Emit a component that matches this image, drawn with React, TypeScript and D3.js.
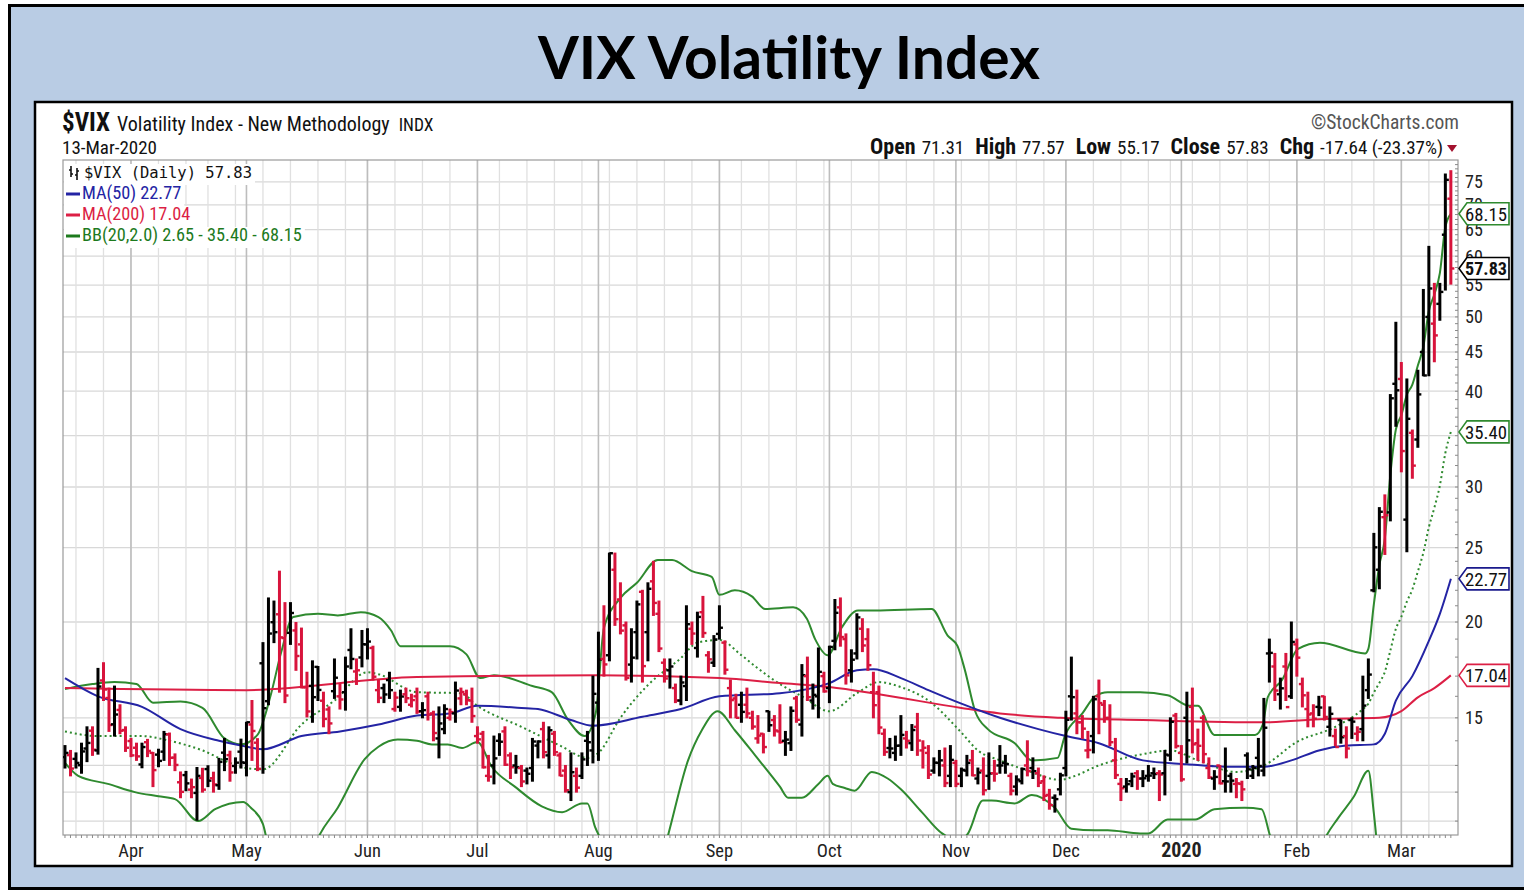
import { useEffect, useRef } from 'react'
import * as d3 from 'd3'

// trading calendar of the chart
const START = '2019-03-14'
const END = '2020-03-13'
const HOLIDAYS = ['2019-04-19', '2019-05-27', '2019-07-04', '2019-09-02', '2019-11-28', '2019-12-25', '2020-01-01', '2020-01-20', '2020-02-17']
const PREV_CLOSE = 13.41

// daily bars: [open, high, low, close]
const OHLC: [number, number, number, number][] = [
  // Mar 2019
  [13.33, 13.8, 12.9, 13.5], [13.41, 13.6, 12.6, 12.88], [13.26, 13.5, 12.9, 13.1], [13.01, 13.9, 12.7, 13.56],
  [13.68, 14.6, 13.15, 13.91], [14.43, 14.6, 13.4, 13.63], [13.6, 17.4, 13.45, 16.48], [16.78, 17.7, 15.8, 16.33],
  [15.92, 16.4, 14.4, 14.68], [14.71, 16.5, 14.2, 15.15], [15.36, 15.6, 14.3, 14.43], [14.46, 14.6, 13.56, 13.71],
  // Apr
  [13.99, 14.1, 13.35, 13.4], [13.71, 13.9, 13.2, 13.36], [13.04, 13.9, 12.91, 13.74], [13.94, 14.06, 13.35, 13.58],
  [13.5, 13.52, 12.2, 12.82], [13.43, 13.65, 12.95, 13.18], [13.55, 14.4, 13.2, 14.28], [14.27, 14.33, 13.0, 13.3],
  [13.31, 13.46, 12.8, 13.02], [12.36, 12.75, 11.8, 12.01], [12.63, 12.77, 12.05, 12.32], [12.09, 12.48, 11.8, 12.18],
  [11.97, 12.92, 11.03, 12.6], [12.52, 12.89, 12.0, 12.09], [12.86, 12.99, 12.2, 12.42], [12.51, 12.74, 12.0, 12.28],
  [12.25, 13.28, 12.1, 13.14], [13.51, 14.1, 12.8, 13.25], [13.41, 13.57, 12.4, 12.73], [12.98, 13.3, 12.7, 13.11],
  [13.55, 14.07, 12.9, 13.12],
  // May
  [13.1, 14.8, 12.6, 14.8], [14.7, 15.8, 13.2, 14.42], [13.92, 14.09, 12.8, 12.87], [17.67, 18.8, 12.7, 15.44],
  [15.77, 21.5, 15.6, 19.32], [19.99, 21.3, 18.8, 19.4], [20.47, 23.3, 16.2, 19.1], [19.06, 21.2, 15.7, 16.04],
  [19.36, 21.2, 18.7, 20.55], [19.5, 19.97, 17.3, 18.06], [18.7, 19.64, 16.41, 16.44], [16.44, 17.2, 15.04, 15.29],
  [16.51, 17.8, 14.8, 15.96], [17.48, 17.5, 15.8, 16.31], [15.79, 16.2, 14.6, 14.95], [15.38, 15.5, 14.3, 14.75],
  [16.25, 17.9, 15.9, 16.92], [16.0, 16.6, 15.4, 15.85], [16.2, 18.0, 15.35, 17.5], [18.39, 19.6, 17.38, 17.9],
  [17.24, 17.9, 16.58, 17.3], [17.98, 19.5, 17.48, 18.71],
  // Jun
  [18.7, 19.6, 17.9, 18.86], [18.5, 18.6, 16.8, 16.97], [16.3, 16.8, 15.7, 15.93], [16.4, 16.6, 15.7, 16.09],
  [16.8, 17.2, 15.9, 16.3], [15.4, 16.2, 15.3, 15.94], [15.5, 16.3, 15.3, 15.99], [16.1, 16.4, 15.7, 15.91],
  [15.6, 16.1, 15.5, 15.82], [16.0, 16.4, 15.2, 15.28], [15.3, 15.7, 15.0, 15.35], [16.0, 16.2, 14.9, 15.15],
  [15.2, 15.3, 14.0, 14.33], [14.1, 15.5, 13.3, 14.75], [14.5, 15.6, 14.3, 15.4], [15.0, 15.4, 14.9, 15.26],
  [15.2, 16.7, 14.8, 16.28], [15.9, 16.4, 15.6, 16.21], [16.1, 16.3, 15.6, 15.82], [15.8, 16.4, 14.8, 15.08],
  // Jul
  [14.2, 14.6, 13.9, 14.06], [14.3, 14.4, 12.9, 12.93], [12.6, 13.4, 12.4, 12.57], [13.0, 14.2, 12.3, 13.28],
  [14.0, 14.3, 13.4, 13.96], [14.4, 14.6, 13.0, 13.03], [13.4, 13.5, 12.5, 12.93], [13.0, 13.4, 12.7, 12.93],
  [12.9, 13.0, 12.2, 12.39], [12.8, 12.9, 12.3, 12.68], [12.9, 14.1, 12.4, 13.97], [13.8, 14.0, 13.3, 13.97],
  [14.5, 14.8, 13.3, 13.53], [13.4, 14.6, 12.9, 14.45], [14.3, 14.4, 13.4, 13.53], [13.4, 13.5, 12.6, 12.61],
  [12.8, 13.0, 12.0, 12.07], [12.0, 13.5, 11.7, 12.74], [12.6, 12.9, 12.0, 12.16], [12.6, 13.5, 12.5, 13.24],
  [14.0, 14.4, 13.0, 13.94], [13.6, 17.0, 13.1, 16.12],
  // Aug
  [15.7, 19.4, 13.2, 17.87], [17.9, 21.0, 17.0, 17.61], [18.1, 24.6, 17.8, 24.59], [23.4, 24.6, 19.8, 20.17],
  [21.4, 22.5, 19.3, 19.49], [19.8, 20.0, 16.8, 16.91], [17.6, 19.6, 16.7, 17.97], [19.4, 21.3, 17.9, 21.09],
  [21.9, 22.0, 16.7, 17.52], [19.4, 22.5, 17.8, 22.1], [22.6, 24.0, 20.4, 21.18], [20.5, 21.3, 18.3, 18.47],
  [17.7, 17.9, 16.7, 16.88], [17.3, 17.9, 16.4, 17.5], [16.4, 16.6, 15.7, 15.8], [15.8, 17.0, 15.6, 16.68],
  [16.5, 21.0, 15.8, 19.87], [19.6, 20.0, 18.7, 19.32], [18.5, 20.6, 18.0, 20.31], [20.6, 21.6, 19.1, 19.35],
  [18.1, 18.3, 17.2, 17.88], [17.7, 19.2, 17.5, 18.98],
  // Sep
  [19.3, 21.0, 19.0, 19.66], [18.8, 18.9, 17.1, 17.33], [16.4, 16.8, 15.0, 15.82], [15.9, 16.1, 15.0, 15.0],
  [15.6, 16.2, 14.8, 15.27], [15.6, 16.4, 15.0, 15.2], [15.0, 15.3, 14.5, 14.61], [14.1, 15.1, 13.9, 14.22],
  [14.3, 14.3, 13.5, 13.74], [15.3, 15.3, 14.4, 14.67], [14.9, 15.1, 14.2, 14.44], [14.4, 15.6, 13.9, 13.95],
  [14.0, 14.4, 13.4, 14.05], [13.9, 15.5, 13.6, 15.32], [15.9, 16.0, 14.8, 14.91], [14.7, 17.6, 14.2, 17.05],
  [17.0, 18.0, 15.8, 15.96], [15.8, 16.6, 15.4, 16.07], [16.0, 18.5, 15.0, 17.22], [17.0, 17.2, 16.2, 16.24],
  // Oct
  [16.4, 18.6, 15.7, 18.56], [18.9, 21.4, 18.4, 20.56], [20.9, 21.5, 18.6, 19.12], [19.0, 19.3, 16.6, 17.04],
  [17.3, 18.4, 16.7, 17.86], [18.2, 20.5, 17.9, 20.28], [19.6, 20.2, 18.3, 18.64], [19.0, 19.6, 17.3, 17.57],
  [16.2, 17.2, 15.0, 15.58], [16.2, 16.5, 14.3, 14.57], [14.3, 14.5, 13.4, 13.54], [13.7, 14.1, 13.3, 13.68],
  [13.5, 14.2, 13.2, 13.79], [13.8, 15.1, 13.4, 14.25], [14.1, 14.4, 13.7, 14.0], [13.9, 14.7, 13.6, 14.46],
  [14.6, 15.2, 13.4, 14.01], [13.6, 14.0, 12.9, 13.71], [13.5, 13.8, 12.5, 12.65], [12.8, 13.3, 12.7, 13.11],
  [13.1, 13.6, 12.6, 13.2], [13.0, 13.7, 12.2, 12.33], [12.6, 13.8, 12.2, 13.22],
  // Nov
  [13.1, 13.2, 12.2, 12.3], [12.6, 12.9, 12.2, 12.83], [12.8, 13.4, 12.6, 13.1], [13.2, 13.6, 12.6, 12.62],
  [12.5, 12.9, 12.3, 12.73], [12.8, 13.3, 11.9, 12.07], [12.6, 13.5, 12.1, 12.69], [12.7, 13.2, 12.4, 12.68],
  [13.0, 13.8, 12.7, 13.0], [13.1, 13.4, 12.7, 13.05], [12.6, 12.7, 11.9, 12.05], [12.2, 12.6, 11.9, 12.46],
  [12.4, 12.9, 12.3, 12.86], [13.0, 14.0, 12.6, 12.78], [12.9, 13.3, 12.5, 12.78], [12.7, 12.9, 12.2, 12.34],
  [12.4, 12.6, 11.7, 11.87], [11.9, 12.1, 11.4, 11.54], [11.8, 11.9, 11.3, 11.75], [12.1, 12.7, 11.9, 12.62],
  // Dec
  [12.9, 15.3, 12.6, 14.91], [16.0, 18.0, 14.9, 15.96], [15.2, 16.3, 14.3, 14.8], [14.8, 15.1, 14.1, 14.52],
  [13.6, 14.4, 13.3, 13.62], [14.2, 16.0, 13.5, 15.86], [16.0, 16.8, 14.3, 15.68], [15.6, 15.8, 14.8, 14.99],
  [15.0, 15.6, 13.8, 13.94], [13.2, 14.1, 12.5, 12.63], [12.3, 12.5, 11.7, 12.14], [12.2, 12.5, 12.0, 12.29],
  [12.4, 12.7, 12.2, 12.58], [12.7, 12.8, 12.1, 12.5], [12.5, 12.8, 12.2, 12.51], [12.6, 13.0, 12.4, 12.61],
  [12.7, 12.9, 12.5, 12.67], [12.7, 12.8, 11.7, 12.65], [12.7, 13.6, 11.9, 13.43], [13.4, 15.0, 13.2, 14.82],
  [15.1, 15.2, 13.7, 13.78],
  // Jan 2020
  [13.5, 13.8, 12.4, 12.47], [15.0, 16.2, 13.1, 14.02], [15.5, 16.4, 13.5, 13.85], [13.9, 14.5, 13.2, 13.79],
  [15.0, 15.1, 13.1, 13.45], [12.9, 13.3, 12.5, 12.54], [12.5, 12.8, 12.1, 12.56], [13.0, 13.0, 12.3, 12.32],
  [12.4, 13.7, 12.0, 12.39], [12.6, 12.7, 12.0, 12.42], [12.3, 12.5, 11.8, 12.32], [12.3, 12.4, 11.7, 12.1],
  [13.4, 13.5, 12.5, 12.85], [12.6, 13.0, 12.5, 12.91], [13.3, 14.1, 12.6, 12.98], [12.8, 15.9, 12.6, 14.56],
  [18.2, 19.0, 16.7, 18.23], [17.5, 18.2, 15.8, 16.28], [16.1, 16.9, 15.4, 16.39], [17.5, 18.2, 15.8, 15.49],
  [16.0, 20.0, 15.9, 18.84],
  // Feb
  [18.7, 19.0, 17.0, 17.97], [16.6, 16.9, 15.5, 16.05], [15.4, 16.2, 14.6, 15.15], [15.2, 15.6, 14.6, 14.96],
  [15.5, 16.0, 15.1, 15.47], [16.0, 16.0, 14.9, 15.04], [14.6, 15.5, 14.2, 15.18], [14.2, 14.5, 13.8, 13.74],
  [14.9, 14.9, 13.9, 14.15], [14.2, 14.6, 13.3, 13.68], [14.9, 15.0, 14.1, 14.83], [14.3, 14.6, 14.0, 14.38],
  [14.5, 17.0, 14.0, 15.56], [16.3, 17.9, 15.9, 17.08], [22.0, 26.1, 21.9, 25.03], [23.4, 28.2, 22.1, 27.85],
  [27.4, 29.3, 24.5, 27.56], [27.8, 39.6, 27.1, 39.16], [40.9, 49.2, 36.0, 40.11],
  // Mar 2020
  [41.5, 43.6, 31.4, 33.42], [27.2, 41.5, 24.7, 36.82], [35.3, 35.6, 30.8, 31.99], [34.6, 42.6, 33.8, 39.62],
  [45.0, 54.3, 41.9, 41.94], [50.0, 61.8, 41.9, 54.46], [49.0, 55.3, 43.7, 47.3], [52.0, 55.3, 49.5, 53.9],
  [64.0, 76.8, 54.2, 75.47], [71.31, 77.57, 55.17, 57.83],
]

// overlays: [trading day number, value]
const MA50: [number, number][] = [
  [0, 16.9], [6, 16.0], [14, 15.5], [21, 14.5], [28, 14.0], [32, 13.8], [36, 13.65], [43, 14.2], [50, 14.4],
  [57, 14.7], [64, 15.1], [70, 15.2], [75, 15.55], [83, 15.45], [86, 15.4], [92, 14.9], [96, 14.65], [105, 15.05],
  [112, 15.4], [119, 16.0], [130, 16.15], [139, 16.65], [144, 17.3], [147, 17.35], [152, 16.9], [157, 16.3],
  [163, 15.65], [170, 15.0], [177, 14.5], [182, 14.2], [188, 13.9], [196, 13.2], [204, 13.05], [211, 12.95],
  [218, 12.95], [223, 13.2], [228, 13.6], [233, 13.8], [238, 13.85], [240, 14.3], [242, 15.8], [245, 17.0],
  [248, 18.9], [250, 20.5], [252, 22.77],
]
const MA200: [number, number][] = [
  [0, 16.4], [33, 16.3], [64, 16.95], [97, 17.05], [119, 16.9], [130, 16.65], [139, 16.45], [148, 16.1],
  [163, 15.45], [170, 15.2], [181, 15.0], [196, 14.9], [218, 14.8], [229, 14.95], [239, 15.0], [243, 15.3],
  [246, 15.95], [249, 16.4], [252, 17.04],
]
const BB_MID: [number, number][] = [
  [0, 14.4], [6, 14.2], [14, 14.2], [19, 14.0], [25, 13.6], [30, 13.1], [33, 12.9], [36, 12.85], [43, 14.7],
  [49, 15.8], [55, 17.2], [57, 17.1], [64, 16.2], [72, 16.15], [75, 15.55], [83, 14.6], [90, 13.8], [95, 13.3],
  [97, 13.5], [101, 15.0], [106, 16.55], [112, 17.95], [115, 18.8], [119, 18.95], [123, 18.1], [126, 17.4],
  [130, 16.6], [134, 16.0], [139, 15.3], [144, 16.15], [148, 16.7], [152, 16.45], [157, 15.8], [163, 14.35],
  [166, 13.6], [170, 13.2], [175, 12.8], [181, 12.45], [183, 12.55], [188, 13.0], [196, 13.45], [201, 13.6],
  [206, 13.2], [213, 12.75], [218, 13.0], [224, 13.95], [231, 14.6], [236, 15.4], [237, 15.65], [238, 16.18],
  [239, 16.66], [240, 17.22], [241, 18.36], [242, 19.59], [243, 20.32], [244, 21.26], [245, 22.06], [246, 23.28],
  [247, 24.63], [248, 26.58], [249, 28.19], [250, 30.13], [251, 33.22], [252, 35.4],
]
const BB_UPPER: [number, number][] = [
  [0, 16.35], [5, 16.6], [9, 16.7], [13, 16.6], [16, 15.7], [21, 15.75], [25, 15.45], [29, 14.1], [32, 13.85],
  [35, 14.25], [37.5, 16.15], [39.3, 18.25], [41.5, 20.3], [46, 20.5], [49.6, 20.4], [53.8, 20.6], [57, 20.3],
  [59.3, 19.5], [61, 18.6], [70, 18.6], [73, 18.15], [75.5, 16.9], [78, 17.05], [85, 16.5], [88.5, 16.2],
  [91.5, 14.9], [94.5, 14.2], [96.5, 15.2], [98, 19.65], [101, 21.5], [104, 22.5], [107.8, 24.1], [110.4, 24.1],
  [114, 23.3], [117.6, 22.9], [119, 21.7], [121.8, 22.0], [124.9, 21.6], [127.3, 20.8], [132.4, 20.9],
  [134.9, 20.2], [136.4, 19.0], [138.7, 18.1], [141.3, 19.7], [144.2, 20.7], [147.3, 20.7], [157.6, 20.8],
  [160.5, 19.2], [162.3, 18.6], [163.6, 17.35], [165.5, 15.3], [167.8, 14.5], [172.7, 13.9], [175.8, 13.2],
  [180.5, 13.3], [181.8, 14.2], [185, 15.2], [187.3, 16.0], [189.6, 16.2], [195.5, 16.2], [200.5, 16.05],
  [204.5, 15.55], [206, 15.55], [209, 14.25], [216.4, 14.25], [217.8, 14.7], [218.7, 15.95], [221.3, 16.8],
  [224.2, 18.45], [228.2, 18.8], [236.4, 18.2], [237, 18.45], [238, 21.1], [239, 23.72], [240, 25.72],
  [241, 31.14], [242, 35.65], [243, 37.23], [244, 39.58], [245, 40.8], [246, 43.2], [247, 45.74], [248, 50.9],
  [249, 53.5], [250, 57.03], [251, 65.5], [252, 68.15],
]
const BB_LOWER: [number, number][] = [
  [0, 13.1], [2.4, 12.6], [7.8, 12.3], [12.7, 12.0], [17, 11.85], [20, 11.75], [24.2, 11.0], [27.3, 11.4],
  [32.4, 11.65], [33.8, 11.45], [36, 10.9], [37, 10.2], [40, 9.5], [44, 9.6], [46, 10.45], [49.6, 11.45],
  [54.5, 13.25], [57, 13.75], [60.5, 14.05], [64, 14.0], [66.7, 13.85], [69.6, 13.85], [72.2, 13.7], [75, 13.95],
  [77.6, 12.95], [81.8, 12.2], [86.7, 11.5], [90.4, 11.3], [94, 11.6], [95, 11.6], [96.4, 10.8], [98, 10.2],
  [100, 9.0], [104, 8.0], [107, 9.0], [109.6, 10.5], [113.3, 13.2], [115.8, 14.45], [118.7, 15.3], [121.8, 14.45],
  [125.5, 13.4], [130, 12.2], [131.5, 11.8], [134, 11.8], [137, 12.3], [138.7, 12.6], [139.6, 12.3],
  [141.8, 12.15], [143.6, 12.05], [146.7, 12.75], [149.6, 12.5], [152, 12.1], [155.8, 11.3], [159.5, 10.6],
  [162, 10.4], [164, 10.55], [166.9, 11.7], [168.5, 11.7], [172.7, 11.6], [175.8, 11.9], [180, 11.45],
  [183, 10.75], [187.3, 10.7], [189.6, 10.7], [195.5, 10.6], [197, 10.6], [200.5, 11.05], [205.5, 11.05],
  [209, 11.4], [214.5, 11.45], [217.6, 11.4], [219, 10.6], [220, 10.0], [223, 9.2], [226, 9.0], [229, 10.4],
  [231.5, 11.1], [234.4, 11.85], [237, 12.8], [238, 11.26], [239, 9.6], [240, 8.72], [241, 5.58], [242, 3.53],
]

const Y_LABELS = [15, 20, 25, 30, 35, 40, 45, 50, 55, 60, 65, 70, 75]
const Y_GRID = [11, 12, 13, 15, 20, 25, 30, 35, 40, 45, 50, 55, 60, 65, 70, 75]

const QUOTE = [
  { label: 'Open', value: '71.31' },
  { label: 'High', value: '77.57' },
  { label: 'Low', value: '55.17' },
  { label: 'Close', value: '57.83' },
  { label: 'Chg', value: '-17.64 (-23.37%)' },
]

const BLUE = '#2424a4'
const RED = '#dc1f45'
const GREEN = '#2f8a2f'
const BAR_RED = '#d8143c'

const LEGEND = [
  { text: 'MA(50) 22.77', color: BLUE },
  { text: 'MA(200) 17.04', color: RED },
  { text: 'BB(20,2.0) 2.65 - 35.40 - 68.15', color: '#1d7a1d' },
]

const VALUE_TAGS = [
  { value: 68.15, text: '68.15', color: GREEN, bold: false },
  { value: 57.83, text: '57.83', color: '#000', bold: true },
  { value: 35.4, text: '35.40', color: GREEN, bold: false },
  { value: 22.77, text: '22.77', color: '#1a1a8c', bold: false },
  { value: 17.04, text: '17.04', color: RED, bold: false },
]

const NARROW = "'Liberation Sans Narrow', 'Arial Narrow', 'Roboto Condensed', 'Liberation Sans', sans-serif"

export default function App() {
  const ref = useRef<SVGSVGElement>(null)

  useEffect(() => {
    if (!ref.current) return
    const svg = d3.select(ref.current)
    svg.selectAll('*').remove()

    const W = 1524
    const H = 892
    svg.attr('width', W).attr('height', H)

    // trading days
    const hol = new Set(HOLIDAYS)
    const fmt = d3.utcFormat('%Y-%m-%d')
    const days = d3.utcDay.range(new Date(START + 'T00:00:00Z'), d3.utcDay.offset(new Date(END + 'T00:00:00Z'), 1))
      .filter(d => d.getUTCDay() !== 0 && d.getUTCDay() !== 6 && !hol.has(fmt(d)))

    const plot = { left: 63, right: 1458, top: 160, bottom: 835 }
    const x = d3.scaleLinear().domain([-0.36, 253.3]).range([plot.left, plot.right])
    const y = d3.scaleLog().domain([10.55, 80.1]).range([plot.bottom, plot.top])

    // page frame
    svg.append('rect').attr('width', W).attr('height', H).attr('fill', '#fff')
    svg.append('rect').attr('x', 9.5).attr('y', 5.5).attr('width', 1540).attr('height', 883)
      .attr('fill', '#b9cce4').attr('stroke', '#000').attr('stroke-width', 3)

    svg.append('text')
      .attr('x', 789).attr('y', 79)
      .attr('text-anchor', 'middle')
      .attr('font-family', 'Lato, "Open Sans", sans-serif')
      .attr('font-weight', 700).attr('font-size', 60)
      .attr('textLength', 502).attr('lengthAdjust', 'spacingAndGlyphs')
      .attr('fill', '#000')
      .text('VIX Volatility Index')

    svg.append('rect').attr('x', 35).attr('y', 102).attr('width', 1477).attr('height', 764)
      .attr('fill', '#fff').attr('stroke', '#000').attr('stroke-width', 2.5)

    // header texts
    const hdr = svg.append('text').attr('x', 62).attr('y', 131).attr('font-family', NARROW).attr('fill', '#111')
    hdr.append('tspan').attr('font-weight', 700).attr('font-size', 25).text('$VIX')
    hdr.append('tspan').attr('font-size', 20).attr('dx', 7).text('Volatility Index - New Methodology')
    hdr.append('tspan').attr('font-size', 17.5).attr('dx', 9).text('INDX')

    svg.append('text').attr('x', 62).attr('y', 154).attr('font-family', NARROW).attr('font-size', 19)
      .attr('fill', '#111').text('13-Mar-2020')

    svg.append('text').attr('x', 1459).attr('y', 129).attr('text-anchor', 'end')
      .attr('font-family', NARROW).attr('font-size', 19.5).attr('fill', '#555').text('©StockCharts.com')

    const q = svg.append('text').attr('x', 1443).attr('y', 154).attr('text-anchor', 'end')
      .attr('font-family', NARROW).attr('fill', '#111')
    QUOTE.forEach((d, i) => {
      q.append('tspan').attr('font-weight', 700).attr('font-size', 22).attr('dx', i ? 11 : 0).text(d.label)
      q.append('tspan').attr('font-size', 19).attr('dx', 6).text(d.value)
    })
    svg.append('path').attr('d', 'M1447,145 L1457,145 L1452,152 Z').attr('fill', '#a3122e')

    // grid
    const grid = svg.append('g')
    const weekStarts: number[] = []
    const monthStarts: number[] = []
    days.forEach((d, i) => {
      if (i === 0) return
      const p = days[i - 1]
      if (d3.utcMonday.floor(d).getTime() !== d3.utcMonday.floor(p).getTime()) weekStarts.push(i)
      if (d.getUTCMonth() !== p.getUTCMonth()) monthStarts.push(i)
    })
    Y_GRID.forEach(v => {
      grid.append('line').attr('x1', plot.left).attr('x2', plot.right).attr('y1', y(v)).attr('y2', y(v))
        .attr('stroke', '#d8d8d8').attr('stroke-width', 1.3)
    })
    weekStarts.forEach(i => {
      grid.append('line').attr('x1', x(i)).attr('x2', x(i)).attr('y1', plot.top).attr('y2', plot.bottom)
        .attr('stroke', '#e0e0e0').attr('stroke-width', 1.3)
    })
    monthStarts.forEach(i => {
      grid.append('line').attr('x1', x(i)).attr('x2', x(i)).attr('y1', plot.top).attr('y2', plot.bottom)
        .attr('stroke', '#bdbdbd').attr('stroke-width', 1.6)
    })

    svg.append('rect').attr('x', plot.left).attr('y', plot.top)
      .attr('width', plot.right - plot.left).attr('height', plot.bottom - plot.top)
      .attr('fill', 'none').attr('stroke', '#9a9a9a').attr('stroke-width', 1.2)

    // axis ticks
    const ticks = svg.append('g').attr('stroke', '#8a8a8a')
    days.forEach((_, i) => {
      ticks.append('line').attr('x1', x(i)).attr('x2', x(i)).attr('y1', plot.bottom).attr('y2', plot.bottom + 3)
    })
    d3.range(11, 80).forEach(v => {
      ticks.append('line').attr('x1', plot.right).attr('x2', plot.right - 3).attr('y1', y(v)).attr('y2', y(v))
    })

    // month labels
    const fmtMonth = d3.utcFormat('%b')
    monthStarts.forEach(i => {
      const d = days[i]
      const jan = d.getUTCMonth() === 0
      svg.append('text').attr('x', x(i)).attr('y', 857).attr('text-anchor', 'middle')
        .attr('font-family', NARROW).attr('font-size', jan ? 20 : 18.5)
        .attr('font-weight', jan ? 700 : 400).attr('fill', '#222')
        .text(jan ? String(d.getUTCFullYear()) : fmtMonth(d))
    })

    // y labels
    Y_LABELS.forEach(v => {
      svg.append('text').attr('x', 1465).attr('y', y(v)).attr('dy', '0.35em')
        .attr('font-family', NARROW).attr('font-size', 18).attr('fill', '#222').text(v)
    })

    // plot contents
    svg.append('clipPath').attr('id', 'plot-clip').append('rect')
      .attr('x', plot.left).attr('y', plot.top)
      .attr('width', plot.right - plot.left).attr('height', plot.bottom - plot.top)
    const g = svg.append('g').attr('clip-path', 'url(#plot-clip)')

    const line = d3.line<[number, number]>().x(d => x(d[0])).y(d => y(d[1])).curve(d3.curveMonotoneX)

    g.append('path').attr('d', line(BB_UPPER)).attr('fill', 'none').attr('stroke', GREEN).attr('stroke-width', 2)
    g.append('path').attr('d', line(BB_LOWER)).attr('fill', 'none').attr('stroke', GREEN).attr('stroke-width', 2)
    g.append('path').attr('d', line(BB_MID)).attr('fill', 'none').attr('stroke', GREEN)
      .attr('stroke-width', 2).attr('stroke-dasharray', '2,3')
    g.append('path').attr('d', line(MA200)).attr('fill', 'none').attr('stroke', RED).attr('stroke-width', 2)
    g.append('path').attr('d', line(MA50)).attr('fill', 'none').attr('stroke', BLUE).attr('stroke-width', 2)

    // OHLC bars
    OHLC.forEach((b, i) => {
      const [o, h, l, c] = b
      const prev = i === 0 ? PREV_CLOSE : OHLC[i - 1][3]
      const col = c < prev ? BAR_RED : '#000'
      const bx = x(i)
      const bar = g.append('g').attr('stroke', col)
      bar.append('line').attr('x1', bx).attr('x2', bx).attr('y1', y(h) - 0.5).attr('y2', y(l) + 0.5)
        .attr('stroke-width', 3)
      bar.append('line').attr('x1', bx - 3.5).attr('x2', bx).attr('y1', y(o)).attr('y2', y(o)).attr('stroke-width', 2.4)
      bar.append('line').attr('x1', bx).attr('x2', bx + 3.5).attr('y1', y(c)).attr('y2', y(c)).attr('stroke-width', 2.4)
    })

    // legend
    const lg = svg.append('g')
    const row0 = lg.append('text').attr('x', 84).attr('y', 178)
      .attr('font-family', '"DejaVu Sans Mono", monospace').attr('font-size', 15.5).attr('fill', '#111')
      .text('$VIX (Daily) 57.83')
    const rows = [row0]
    LEGEND.forEach((d, i) => {
      const yy = 199 + i * 21
      lg.append('line').attr('x1', 66).attr('x2', 80).attr('y1', yy - 5).attr('y2', yy - 5)
        .attr('stroke', d.color).attr('stroke-width', 3)
      rows.push(lg.append('text').attr('x', 82).attr('y', yy)
        .attr('font-family', NARROW).attr('font-size', 18.3).attr('fill', d.color).text(d.text))
    })
    rows.forEach((r, i) => {
      const node = r.node() as SVGTextElement
      const w = node.getComputedTextLength()
      lg.insert('rect', ':first-child')
        .attr('x', 64).attr('y', 164 + i * 21).attr('width', (i === 0 ? 84 : 82) + w + 3 - 64).attr('height', 21)
        .attr('fill', '#fff')
    })
    // daily bar icon
    const icon = lg.append('g').attr('stroke', '#111').attr('stroke-width', 1.6)
    icon.append('line').attr('x1', 71).attr('x2', 71).attr('y1', 166).attr('y2', 177)
    icon.append('line').attr('x1', 69).attr('x2', 71).attr('y1', 170).attr('y2', 170)
    icon.append('line').attr('x1', 71).attr('x2', 73).attr('y1', 174).attr('y2', 174)
    icon.append('line').attr('x1', 77).attr('x2', 77).attr('y1', 168).attr('y2', 180)
    icon.append('line').attr('x1', 75).attr('x2', 77).attr('y1', 175).attr('y2', 175)
    icon.append('line').attr('x1', 77).attr('x2', 79).attr('y1', 171).attr('y2', 171)

    // last-value tags
    VALUE_TAGS.forEach(t => {
      const ty = y(t.value)
      svg.append('path')
        .attr('d', `M1459,${ty} L1467,${ty - 11} L1509,${ty - 11} L1509,${ty + 11} L1467,${ty + 11} Z`)
        .attr('fill', '#fff').attr('stroke', t.color).attr('stroke-width', 1.6)
      svg.append('text').attr('x', 1486).attr('y', ty).attr('dy', '0.36em').attr('text-anchor', 'middle')
        .attr('font-family', NARROW).attr('font-size', 19).attr('font-weight', t.bold ? 700 : 400)
        .attr('textLength', 42).attr('lengthAdjust', 'spacingAndGlyphs')
        .attr('fill', '#111').text(t.text)
    })
  }, [])

  return <svg ref={ref} style={{ position: 'absolute', left: 0, top: 0, display: 'block' }} />
}
